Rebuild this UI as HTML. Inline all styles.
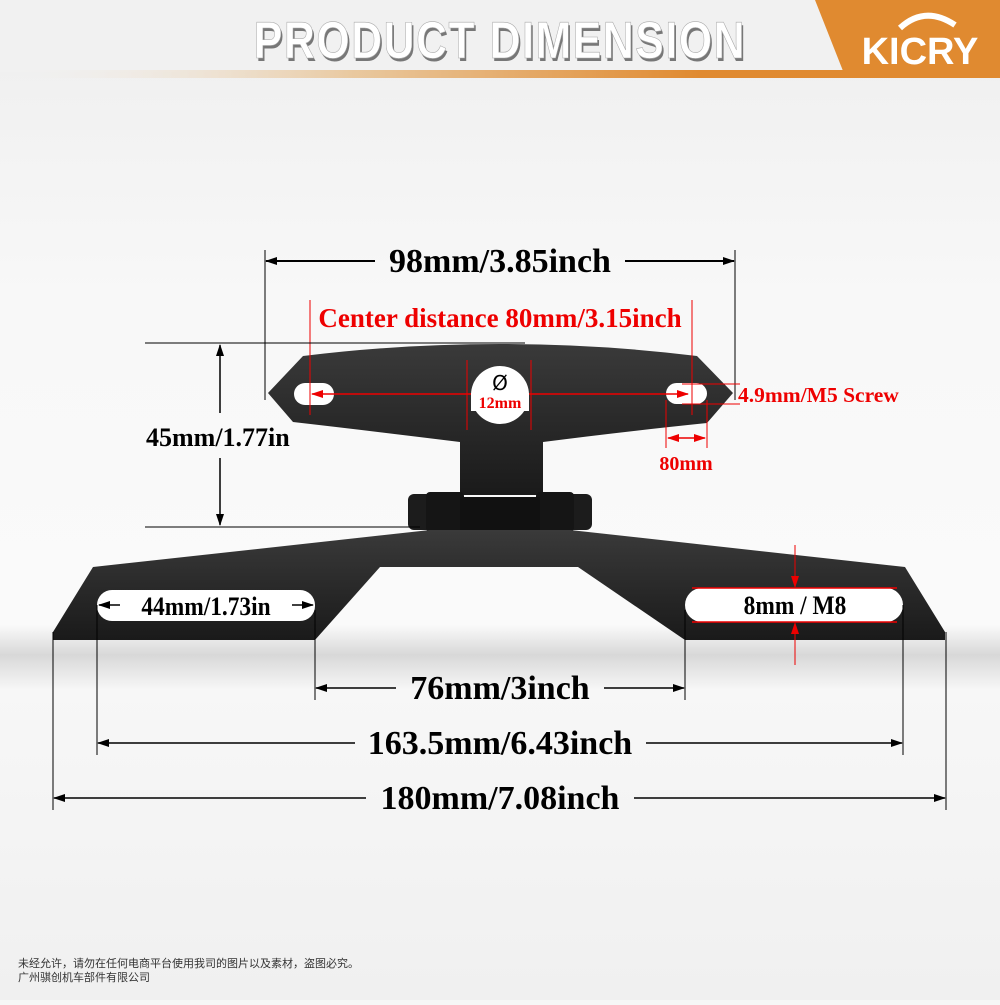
<!DOCTYPE html>
<html><head><meta charset="utf-8"><style>
html,body{margin:0;padding:0}
body{width:1000px;height:1000px;overflow:hidden;background:#f6f6f6}
</style></head><body>
<svg width="1000" height="1000" viewBox="0 0 1000 1000" xmlns="http://www.w3.org/2000/svg">
<defs>
<linearGradient id="bg" x1="0" y1="0" x2="0" y2="1">
<stop offset="0" stop-color="#eeeeee"/><stop offset="0.3" stop-color="#f8f8f8"/><stop offset="0.625" stop-color="#fafafa"/><stop offset="0.655" stop-color="#d8d8d8"/><stop offset="0.69" stop-color="#f7f7f7"/><stop offset="1" stop-color="#f0f0f0"/>
</linearGradient>
<linearGradient id="band" x1="0" y1="0" x2="1" y2="0">
<stop offset="0" stop-color="#f0f0f0" stop-opacity="0"/><stop offset="0.35" stop-color="#e9c9a0"/><stop offset="0.7" stop-color="#e08a30"/><stop offset="1" stop-color="#e08a30"/>
</linearGradient>
<linearGradient id="metal" x1="0" y1="0" x2="0" y2="1">
<stop offset="0" stop-color="#3a3a3a"/><stop offset="1" stop-color="#1a1a1a"/>
</linearGradient>
<marker id="ak" markerWidth="12" markerHeight="8" refX="11" refY="4" orient="auto-start-reverse" markerUnits="userSpaceOnUse"><path d="M0,0 L12,4 L0,8 z" fill="#000"/></marker>
<marker id="ar" markerWidth="12" markerHeight="8" refX="11" refY="4" orient="auto-start-reverse" markerUnits="userSpaceOnUse"><path d="M0,0 L12,4 L0,8 z" fill="#e00"/></marker>
</defs>
<rect width="1000" height="1000" fill="url(#bg)"/>
<!-- header -->
<rect x="0" y="0" width="1000" height="72" fill="#f1f1f1"/>
<rect x="0" y="70" width="1000" height="8" fill="url(#band)"/>
<polygon points="815,0 1000,0 1000,76 845,76" fill="#e08a30"/>
<text x="502" y="61" text-anchor="middle" font-family="Liberation Sans, sans-serif" font-weight="bold" font-size="52" fill="#777" transform="translate(500,0) scale(0.82,1) translate(-500,0)" letter-spacing="2">PRODUCT DIMENSION</text>
<text x="500" y="58" text-anchor="middle" font-family="Liberation Sans, sans-serif" font-weight="bold" font-size="52" fill="#fff" stroke="#aaa" stroke-width="0.6" transform="translate(500,0) scale(0.82,1) translate(-500,0)" letter-spacing="2">PRODUCT DIMENSION</text>
<text x="920" y="64" text-anchor="middle" font-family="Liberation Sans, sans-serif" font-weight="bold" font-size="38" fill="#fff">KICRY</text>
<path d="M900,28 Q925,5 955,25" stroke="#fff" stroke-width="6" fill="none"/>

<!-- top plate -->
<path d="M268,393 L303,356 Q400,344 500,344 Q600,344 697,356 L733,393 L707,423 Q620,432 543,442 L543,495 L460,495 L460,442 Q380,432 293,422 Z" fill="url(#metal)"/>
<rect x="294" y="383" width="40" height="22" rx="11" fill="#fff"/>
<rect x="666" y="383" width="41" height="21" rx="10.5" fill="#fff"/>
<circle cx="500" cy="395" r="29" fill="#fff"/>
<!-- hinge -->
<rect x="408" y="494" width="24" height="36" rx="6" fill="#1c1c1c"/>
<rect x="568" y="494" width="24" height="36" rx="6" fill="#1c1c1c"/>
<rect x="426" y="492" width="38" height="40" rx="4" fill="#151515"/>
<rect x="536" y="492" width="38" height="40" rx="4" fill="#151515"/>
<rect x="460" y="497" width="80" height="33" fill="#111"/>
<!-- bottom plate -->
<path d="M93,567 L430,530 L570,530 L905,567 L945,632 L945,640 L685,640 L578,567 L380,567 L315,640 L53,640 L53,632 Z" fill="url(#metal)"/>
<rect x="97" y="590" width="218" height="31" rx="15" fill="#fff"/>
<rect x="685" y="588" width="218" height="34" rx="17" fill="#fff"/>

<g font-family="Liberation Serif, serif" font-weight="bold">
<!-- 98mm -->
<line x1="265" y1="250" x2="265" y2="400" stroke="#000"/>
<line x1="735" y1="250" x2="735" y2="400" stroke="#000"/>
<line x1="266" y1="261" x2="375" y2="261" stroke="#000" stroke-width="2" marker-start="url(#ak)"/>
<line x1="625" y1="261" x2="734" y2="261" stroke="#000" stroke-width="2" marker-end="url(#ak)"/>
<text x="500" y="272" text-anchor="middle" font-size="34">98mm/3.85inch</text>
<!-- center distance -->
<line x1="310" y1="300" x2="310" y2="415" stroke="#e00"/>
<line x1="692" y1="300" x2="692" y2="415" stroke="#e00"/>
<text x="500" y="327" text-anchor="middle" font-size="27" fill="#e00">Center distance 80mm/3.15inch</text>
<line x1="312" y1="394" x2="688" y2="394" stroke="#e00" stroke-width="1.5" marker-start="url(#ar)" marker-end="url(#ar)"/>
<line x1="467" y1="360" x2="467" y2="430" stroke="#e00"/>
<line x1="531" y1="360" x2="531" y2="430" stroke="#e00"/>
<text x="500" y="390" text-anchor="middle" font-family="DejaVu Sans, sans-serif" font-weight="normal" font-size="20">Ø</text>
<rect x="471" y="393" width="58" height="18" fill="#fff"/>
<text x="500" y="408" text-anchor="middle" font-size="16" fill="#e00">12mm</text>
<!-- 4.9mm -->
<line x1="682" y1="384" x2="740" y2="384" stroke="#e00"/>
<line x1="682" y1="404" x2="740" y2="404" stroke="#e00"/>
<text x="738" y="402" font-size="21.5" fill="#e00">4.9mm/M5 Screw</text>
<line x1="666" y1="400" x2="666" y2="448" stroke="#e00"/>
<line x1="707" y1="400" x2="707" y2="448" stroke="#e00"/>
<line x1="668" y1="438" x2="705" y2="438" stroke="#e00" stroke-width="1.5" marker-start="url(#ar)" marker-end="url(#ar)"/>
<text x="686" y="470" text-anchor="middle" font-size="20" fill="#e00">80mm</text>
<!-- 45mm -->
<line x1="145" y1="343" x2="525" y2="343" stroke="#000"/>
<line x1="145" y1="527" x2="420" y2="527" stroke="#000"/>
<line x1="220" y1="345" x2="220" y2="413" stroke="#000" stroke-width="1.5" marker-start="url(#ak)"/>
<line x1="220" y1="458" x2="220" y2="525" stroke="#000" stroke-width="1.5" marker-end="url(#ak)"/>
<text x="146" y="446" font-size="26">45mm/1.77in</text>
<!-- slots -->
<text x="206" y="615" text-anchor="middle" font-size="26" transform="translate(206,0) scale(0.9,1) translate(-206,0)">44mm/1.73in</text>
<line x1="99" y1="605" x2="120" y2="605" stroke="#000" stroke-width="1.5" marker-start="url(#ak)"/>
<line x1="292" y1="605" x2="313" y2="605" stroke="#000" stroke-width="1.5" marker-end="url(#ak)"/>
<line x1="692" y1="588" x2="897" y2="588" stroke="#e00" stroke-width="1.5"/>
<line x1="692" y1="622" x2="897" y2="622" stroke="#e00" stroke-width="1.5"/>
<text x="795" y="614" text-anchor="middle" font-size="26" transform="translate(795,0) scale(0.9,1) translate(-795,0)">8mm / M8</text>
<line x1="795" y1="545" x2="795" y2="587" stroke="#e00" marker-end="url(#ar)"/>
<line x1="795" y1="665" x2="795" y2="623" stroke="#e00" marker-end="url(#ar)"/>
<!-- verticals -->
<line x1="53" y1="632" x2="53" y2="810" stroke="#000"/>
<line x1="946" y1="632" x2="946" y2="810" stroke="#000"/>
<line x1="97" y1="605" x2="97" y2="755" stroke="#000"/>
<line x1="903" y1="605" x2="903" y2="755" stroke="#000"/>
<line x1="315" y1="610" x2="315" y2="700" stroke="#000"/>
<line x1="685" y1="610" x2="685" y2="700" stroke="#000"/>
<!-- 76 -->
<line x1="316" y1="688" x2="396" y2="688" stroke="#000" stroke-width="1.5" marker-start="url(#ak)"/>
<line x1="604" y1="688" x2="684" y2="688" stroke="#000" stroke-width="1.5" marker-end="url(#ak)"/>
<text x="500" y="699" text-anchor="middle" font-size="34">76mm/3inch</text>
<!-- 163.5 -->
<line x1="98" y1="743" x2="355" y2="743" stroke="#000" stroke-width="1.5" marker-start="url(#ak)"/>
<line x1="646" y1="743" x2="902" y2="743" stroke="#000" stroke-width="1.5" marker-end="url(#ak)"/>
<text x="500" y="754" text-anchor="middle" font-size="34">163.5mm/6.43inch</text>
<!-- 180 -->
<line x1="54" y1="798" x2="366" y2="798" stroke="#000" stroke-width="1.5" marker-start="url(#ak)"/>
<line x1="634" y1="798" x2="945" y2="798" stroke="#000" stroke-width="1.5" marker-end="url(#ak)"/>
<text x="500" y="809" text-anchor="middle" font-size="34">180mm/7.08inch</text>
</g>
<text x="18" y="967" font-family="Liberation Sans, Noto Sans CJK SC, sans-serif" font-size="11" fill="#333">未经允许，请勿在任何电商平台使用我司的图片以及素材，盗图必究。</text>
<text x="18" y="981" font-family="Liberation Sans, Noto Sans CJK SC, sans-serif" font-size="11" fill="#333">广州骐创机车部件有限公司</text>
</svg>
</body></html>
